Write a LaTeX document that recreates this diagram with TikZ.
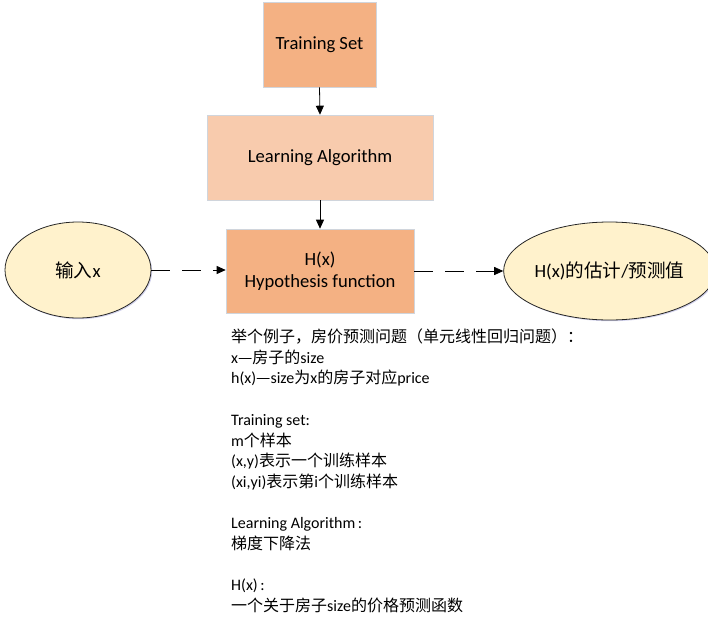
\documentclass[tikz,border=0pt]{standalone}
\usepackage{fontspec}
\setmainfont{Carlito}
\newfontfamily\cjk{Noto Sans CJK SC}
\usetikzlibrary{arrows.meta,shadows,shapes.geometric}
\newcommand{\zh}[1]{{\cjk #1}}
\definecolor{boxdark}{HTML}{F4B183}
\definecolor{boxlight}{HTML}{F8CBAD}
\definecolor{ellfill}{HTML}{FFF2CC}
\definecolor{boxedge}{HTML}{D0D5DC}
\tikzset{
  procbox/.style={draw=boxedge, line width=0.6pt, inner sep=0pt, align=center,
    font=\fontsize{18.6}{22}\selectfont,
    drop shadow={shadow xshift=1.2pt, shadow yshift=-1.2pt, fill=blue!40!gray, opacity=0.25}},
  termell/.style={ellipse, draw=black!85, line width=0.8pt, fill=ellfill, inner sep=0pt,
    font=\fontsize{18.6}{22}\selectfont,
    drop shadow={shadow xshift=1.2pt, shadow yshift=-1.2pt, fill=blue!40!gray, opacity=0.25}},
  body/.style={anchor=base west, inner sep=0pt, font=\fontsize{16}{20.7}\selectfont},
  solidarrow/.style={line width=0.8pt, -{Triangle[length=9pt,width=8pt]}},
  dasharrow/.style={line width=0.8pt, dash pattern=on 19pt off 12pt, -{Triangle[length=9pt,width=8pt]}},
}
\begin{document}
\begin{tikzpicture}[x=1pt,y=-1pt]
\useasboundingbox (0,0) rectangle (708,624);
% boxes
\node[procbox, fill=boxdark, minimum width=113pt, minimum height=85pt] (ts) at (319.5,44.5) {Training Set};
\node[procbox, fill=boxlight, minimum width=226pt, minimum height=85pt] (la) at (320,157.5) {Learning Algorithm};
\node[procbox, fill=boxdark, minimum width=188pt, minimum height=84pt] (hx) at (320,271) {H(x)\\Hypothesis function};
% ellipses
\node[termell, minimum width=146pt, minimum height=96pt] (in) at (78,270) {\zh{输入}x};
\node[termell, minimum width=193pt, minimum height=98pt] (out) at (609.5,271) {H(x)\zh{的估计}/\zh{预测值}};
% connectors
\draw[solidarrow] (ts.south) -- (la.north);
\draw[solidarrow] (la.south) -- (hx.north);
\draw[dasharrow] (in.east) -- (in.east -| hx.west);
\draw[dasharrow] (hx.east |- out.west) -- (out.west);
% body text
\node[body] (t1) at (231,342.5) {\zh{举个例子，房价预测问题（单元线性回归问题）：}};
\node[body] (t2) at (231,363.2) {x\zh{—房子的}size};
\node[body] (t3) at (231,383.9) {h(x)\zh{—}size\zh{为}x\zh{的房子对应}price};
\node[body] (t4) at (231,425.3) {Training set:};
\node[body] (t5) at (231,446.0) {m\zh{个样本}};
\node[body] (t6) at (231,466.7) {(x,y)\zh{表示一个训练样本}};
\node[body] (t7) at (231,487.4) {(xi,yi)\zh{表示第}i\zh{个训练样本}};
\node[body] (t8) at (231,528.8) {Learning Algorithm\,:};
\node[body] (t9) at (231,549.5) {\zh{梯度下降法}};
\node[body] (t10) at (231,590.9) {H(x)\,:};
\node[body] (t11) at (231,611.6) {\zh{一个关于房子}size\zh{的价格预测函数}};
\end{tikzpicture}
\end{document}
